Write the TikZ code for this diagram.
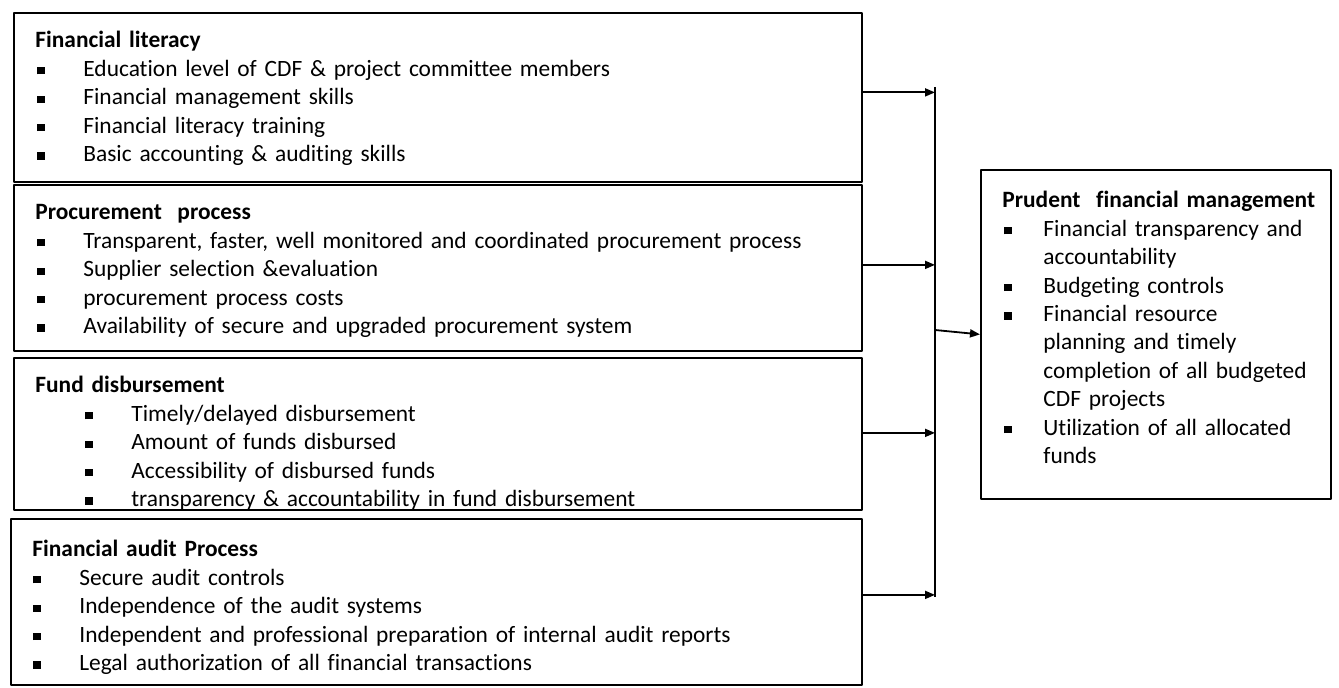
\documentclass[tikz,border=0pt]{standalone}
\usepackage{fontspec}
\setmainfont{Carlito}[Ligatures=NoCommon]
\usetikzlibrary{arrows.meta,positioning}
% bullets and list lines
\newcommand{\sqb}{\rule[1pt]{3.6pt}{3.6pt}}
\def\bind{1pt}\def\bgap{23pt}
\newcommand{\itm}[1]{\par\hspace*{\bind}\makebox[\bgap][l]{\sqb}#1}
\newcommand{\cnt}[1]{\par\hspace*{\dimexpr\bind+\bgap\relax}#1}
\begin{document}
\begin{tikzpicture}[x=0.5pt, y=-0.5pt, line join=round, >={Triangle[length=5pt,width=4pt]},
  blk/.style={draw, line width=0.9pt, anchor=north west, inner sep=0pt},
  txt/.style={anchor=base west, inner sep=0pt, align=left, text width=#1, font=\fontsize{11.7}{14.2}\selectfont},
  lnk/.style={->, line width=0.9pt}]
  \useasboundingbox (0,0) rectangle (1339,688);
  % boxes
  \node[blk, minimum width=424pt, minimum height=84.5pt] (lit) at (13,12) {};
  \node[blk, minimum width=424pt, minimum height=83pt] (pro) at (13,184) {};
  \node[blk, minimum width=424pt, minimum height=76pt] (dis) at (13,357) {};
  \node[blk, minimum width=425.5pt, minimum height=83pt] (aud) at (10,518) {};
  \node[blk, minimum width=175pt, minimum height=164.5pt] (pfm) at (980,169) {};
  % texts
  \node[txt=420pt] (litT) at (35,48) {\textbf{Financial literacy}
    \itm{Education level of CDF \& project committee members}
    \itm{Financial management skills}
    \itm{Financial literacy training}
    \itm{Basic accounting \& auditing skills}};
  \node[txt=420pt] (proT) at (35,220) {\textbf{Procurement\ \ process}
    \itm{Transparent, faster, well monitored and coordinated procurement process}
    \itm{Supplier selection \&evaluation}
    \itm{procurement process costs}
    \itm{Availability of secure and upgraded procurement system}};
  \begin{scope}
    \clip (dis.north west) rectangle (dis.south east);
    \node[txt=420pt] (disT) at (35,393) {\def\bind{25pt}\textbf{Fund disbursement}
      \itm{Timely/delayed disbursement}
      \itm{Amount of funds disbursed}
      \itm{Accessibility of disbursed funds}
      \itm{transparency \& accountability in fund disbursement}};
  \end{scope}
  \node[txt=420pt] (audT) at (32,557) {\def\bind{0.5pt}\textbf{Financial audit Process}
    \itm{Secure audit controls}
    \itm{Independence of the audit systems}
    \itm{Independent and professional preparation of internal audit reports}
    \itm{Legal authorization of all financial transactions}};
  \node[txt=172pt] (pfmT) at (1002,208) {\def\bgap{19.5pt}\textbf{Prudent\ \ financial management}
    \itm{Financial transparency and}
    \cnt{accountability}
    \itm{Budgeting controls}
    \itm{Financial resource}
    \cnt{planning and timely}
    \cnt{completion of all budgeted}
    \cnt{CDF projects}
    \itm{Utilization of all allocated}
    \cnt{funds}};
  % connectors
  \coordinate (bt) at (935,87);
  \coordinate (bb) at (935,597);
  \coordinate (bm) at (935,330);
  \draw[line width=0.9pt] (bt) -- (bb);
  \draw[lnk] ([yshift=2.5pt]lit.east) -- ([yshift=2.5pt]lit.east -| bt);
  \draw[lnk] ([yshift=1.5pt]pro.east) -- ([yshift=1.5pt]pro.east -| bt);
  \draw[lnk] ([yshift=0.5pt]dis.east) -- ([yshift=0.5pt]dis.east -| bt);
  \draw[lnk] ([yshift=3.5pt]aud.east) -- ([yshift=3.5pt]aud.east -| bt);
  \draw[lnk] (bm) -- (pfm.west);
\end{tikzpicture}
\end{document}
